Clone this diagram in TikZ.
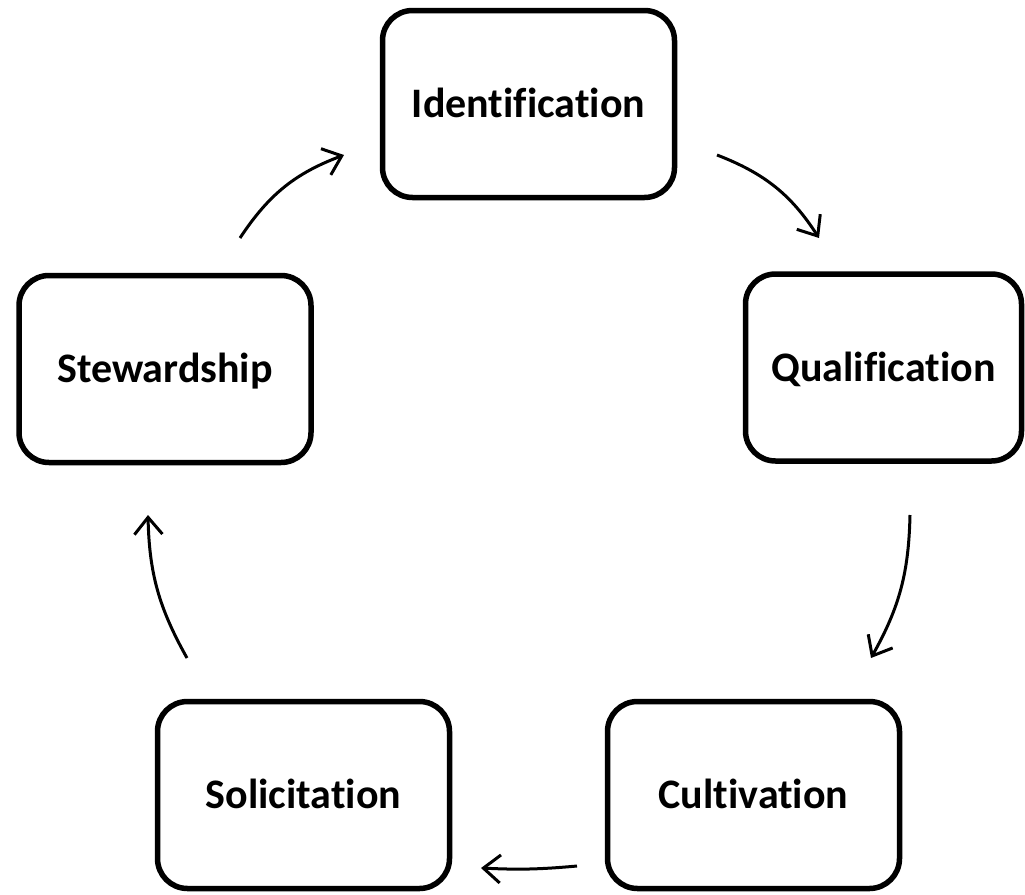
\documentclass[tikz,border=0pt]{standalone}
\usepackage{fontspec}
\setmainfont[Ligatures=NoCommon]{Carlito}
\usetikzlibrary{arrows.meta}
\begin{document}
\begin{tikzpicture}[x=1pt,y=-1pt,
  stage/.style={draw=black, line width=5.5pt, rounded corners=30pt, fill=white,
    minimum width=292pt, minimum height=187pt, inner sep=0pt,
    font=\bfseries\fontsize{42}{50}\selectfont, text height=27pt, text depth=0pt},
  flow/.style={line width=3pt, -{Straight Barb[length=17pt,width=28pt,line width=3pt]}}]
\useasboundingbox[fill=white] (0,0) rectangle (1025,894);
\node[stage] (ident) at (528.5,104) {Identification};
\node[stage, minimum width=276pt] (qual) at (883.5,367.5) {Qualification};
\node[stage] (stew) at (165,369) {Stewardship};
\node[stage] (solic) at (303.5,795) {Solicitation};
\node[stage] (cult) at (753.5,795) {Cultivation};
\coordinate (a1s) at (240,238); \coordinate (a1e) at (344,155);
\coordinate (a2s) at (717,155); \coordinate (a2e) at (819,238);
\coordinate (a3s) at (910,515); \coordinate (a3e) at (871,658);
\coordinate (a4s) at (577,866); \coordinate (a4e) at (481,868);
\coordinate (a5s) at (187,658); \coordinate (a5e) at (148,515);
\draw[flow] (a1s) to[bend left=18] (a1e);
\draw[flow] (a2s) to[bend left=18] (a2e);
\draw[flow] (a3s) to[bend left=14] (a3e);
\draw[flow] (a4s) to[bend left=4] (a4e);
\draw[flow] (a5s) to[bend left=14] (a5e);
\end{tikzpicture}
\end{document}
